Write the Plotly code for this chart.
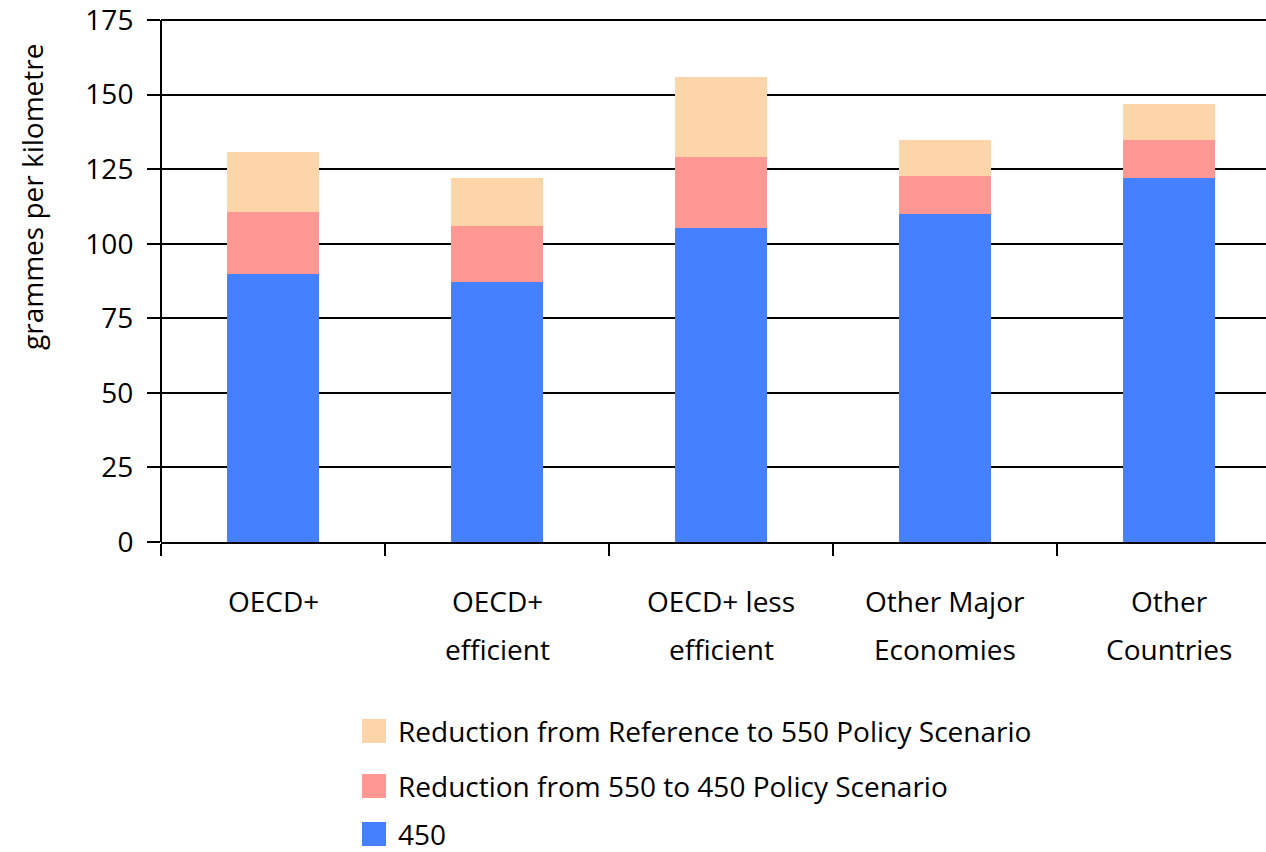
import plotly.graph_objects as go

# Regions on the horizontal axis
categories = ["OECD+", "OECD+ efficient", "OECD+ less efficient",
              "Other Major Economies", "Other Countries"]
label_line1 = ["OECD+", "OECD+", "OECD+ less", "Other Major", "Other"]
label_line2 = ["", "efficient", "efficient", "Economies", "Countries"]

# Stacked components, grammes per kilometre
level_450 = [89.8, 87.2, 105.2, 110.0, 122.0]
cut_550_to_450 = [20.8, 18.7, 23.9, 12.6, 12.7]
cut_ref_to_550 = [20.1, 16.1, 26.8, 12.1, 12.1]

series_names = ["450",
                "Reduction from 550 to 450 Policy Scenario",
                "Reduction from Reference to 550 Policy Scenario"]
series_values = [level_450, cut_550_to_450, cut_ref_to_550]
series_colors = ["#4480FF", "#FF9792", "#FED5A8"]

y_ticks = [0, 25, 50, 75, 100, 125, 150, 175]

FONT = "'Open Sans', 'Noto Sans', Arial, sans-serif"
FS = 28

# plot area geometry in pixels (value 0 sits at y=542, 175 at y=20)
PL, PW = 161, 1105
Y_MAX = 177.0
PH = round(522 * Y_MAX / 175)
PT = 542 - PH


def px_x(px):
    return (px - PL) / PW


def px_y(py):
    return (PT + PH - py) / PH


fig = go.Figure()
for name, vals, col in zip(series_names, series_values, series_colors):
    fig.add_trace(go.Bar(x=categories, y=vals, name=name,
                         marker=dict(color=col, line=dict(width=0)),
                         showlegend=False))

annotations = []
# two-line category labels under the axis
for cat, l1, l2 in zip(categories, label_line1, label_line2):
    for text, ypix in ((l1, 601), (l2, 649)):
        if text:
            annotations.append(dict(x=cat, xref="x", y=px_y(ypix), yref="paper",
                                    text=text, showarrow=False,
                                    xanchor="center", yanchor="middle",
                                    font=dict(size=FS, color="black", family=FONT)))

# y axis title
annotations.append(dict(x=px_x(32), xref="paper", y=px_y(197), yref="paper",
                        text="grammes per kilometre", textangle=-90,
                        showarrow=False, xanchor="center", yanchor="middle",
                        font=dict(size=FS, color="black", family=FONT)))

# legend: swatch + label per series, top row is the last stacked series
shapes = []
legend_rows_y = [834, 786, 731]  # pixel rows for 450, 550->450, Ref->550
for name, col, ry in zip(series_names, series_colors, legend_rows_y):
    shapes.append(dict(type="rect", xref="paper", yref="paper",
                       x0=px_x(362), x1=px_x(386),
                       y0=px_y(ry + 12), y1=px_y(ry - 12),
                       fillcolor=col, line=dict(width=0)))
    annotations.append(dict(x=px_x(396), xref="paper",
                            y=px_y(ry), yref="paper",
                            text=name, showarrow=False,
                            xanchor="left", yanchor="middle",
                            font=dict(size=FS, color="black", family=FONT)))

# vertical axis line running from the 175 gridline down to the axis ticks
shapes.append(dict(type="line", xref="paper", yref="y",
                   x0=0, x1=0, y0=0, y1=175,
                   line=dict(color="black", width=2)))

fig.update_layout(
    barmode="stack",
    bargap=0.59,
    width=1266, height=852,
    margin=dict(l=PL, r=1266 - PL - PW, t=PT, b=852 - PT - PH),
    paper_bgcolor="white", plot_bgcolor="white",
    font=dict(family=FONT, color="black"),
    annotations=annotations,
    shapes=shapes,
    xaxis=dict(type="category", range=[-0.5, 4.433],
               showticklabels=False, showgrid=False,
               ticks="outside", tickson="boundaries", ticklen=12,
               tickwidth=2, tickcolor="black",
               showline=True, linecolor="black", linewidth=2,
               fixedrange=True),
    yaxis=dict(range=[0, Y_MAX], tickvals=y_ticks,
               showgrid=True, gridcolor="black", gridwidth=2,
               ticks="outside", ticklen=13, tickwidth=2, tickcolor="black",
               showline=False, zeroline=False, ticklabelstandoff=8,
               ticklabeloverflow="allow",
               tickfont=dict(size=FS, color="black", family=FONT),
               fixedrange=True),
)

fig.write_html("out.html")
